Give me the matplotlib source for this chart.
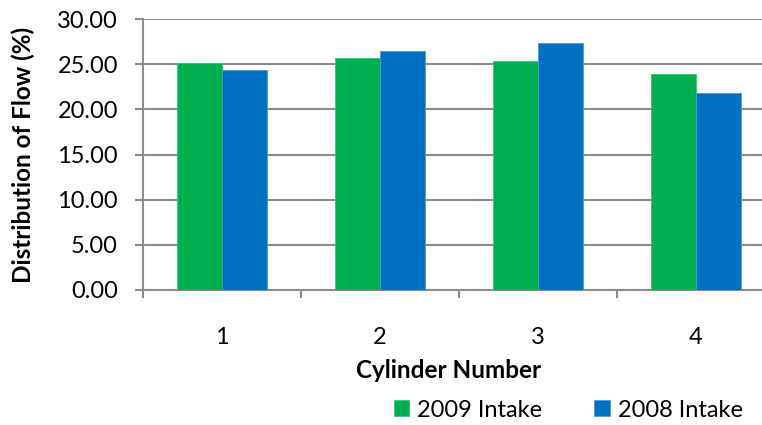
import matplotlib.pyplot as plt
import numpy as np

# Chart data
cylinders = ['1', '2', '3', '4']
intake_2009 = [25.08, 25.64, 25.30, 23.90]
intake_2008 = [24.37, 26.45, 27.30, 21.86]
y_ticks = [0, 5, 10, 15, 20, 25, 30]

# Colours
green = '#00B050'
blue = '#0070C0'
grey = '#8C8C8C'

plt.rcParams['font.family'] = ['Lato', 'DejaVu Sans']

fig = plt.figure(figsize=(7.62, 4.25), dpi=100)
ax = fig.add_axes([143 / 762, 135 / 425, 632 / 762, 271 / 425])

x = np.arange(len(cylinders))
w = 0.285
ax.bar(x - w / 2, intake_2009, w, color=green, edgecolor='#3CC47A', linewidth=0.6,
       label='2009 Intake', zorder=3)
ax.bar(x + w / 2, intake_2008, w, color=blue, edgecolor='#4A9AD8', linewidth=0.6,
       label='2008 Intake', zorder=3)

# Axis limits and grid
ax.set_xlim(-0.5, len(cylinders) - 0.5)
ax.set_ylim(0, 30)
ax.set_yticks(y_ticks)
ax.set_yticklabels([f'{v:.2f}' for v in y_ticks])
ax.yaxis.grid(True, color=grey, linewidth=1.5, zorder=0)

# Category labels at centres, tick marks at boundaries
ax.set_xticks(x)
ax.set_xticklabels(cylinders)
ax.set_xticks(np.arange(len(cylinders) + 1) - 0.5, minor=True)
ax.tick_params(axis='x', which='major', length=0, pad=27, labelsize=17)
ax.tick_params(axis='x', which='minor', length=6, width=1.5, color=grey)
ax.tick_params(axis='y', length=6, width=1.5, color=grey, pad=12, labelsize=17)

for s in ['top', 'right']:
    ax.spines[s].set_visible(False)
for s in ['left', 'bottom']:
    ax.spines[s].set_color(grey)
    ax.spines[s].set_linewidth(1.5)

ax.set_ylabel('Distribution of Flow (%)', fontsize=17.5, fontweight='bold', labelpad=16)
ax.set_xlabel('Cylinder Number', fontsize=17.5, fontweight='bold', labelpad=6)
ax.xaxis.set_label_coords(0.484, -0.255)

# Legend below the chart
fig.legend(loc='center', bbox_to_anchor=(0.746, 0.035), ncol=2, frameon=False,
           fontsize=17, handlelength=0.65, handleheight=0.65, handletextpad=0.35,
           columnspacing=2.2)

plt.savefig('out.png', dpi=100)
